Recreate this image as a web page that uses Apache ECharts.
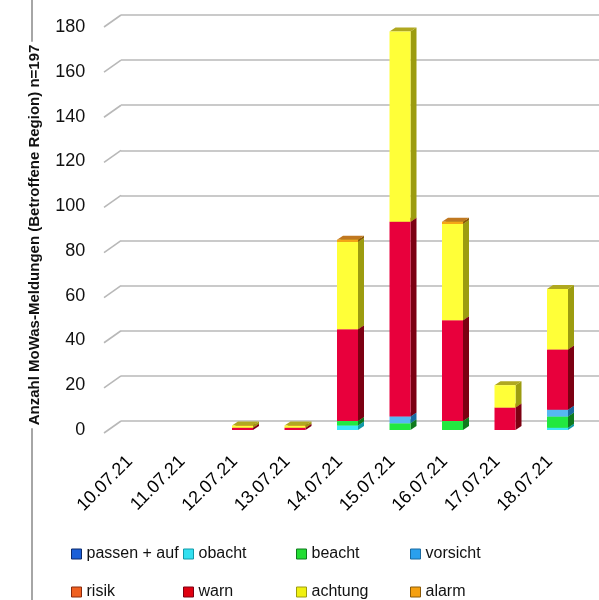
<!DOCTYPE html>
<html>
<head>
<meta charset="utf-8">
<script src="https://cdn.jsdelivr.net/npm/echarts@6/dist/echarts.min.js"></script>
<style>
  html, body { margin: 0; padding: 0; background: #fff; }
  #chart { width: 599px; height: 600px; }
</style>
</head>
<body>
<div id="chart"></div>
<script>
// Tagesweise Anzahl der MoWaS-Meldungen je Warnstufe (gestapelt)
const dates = ['10.07.21', '11.07.21', '12.07.21', '13.07.21', '14.07.21', '15.07.21', '16.07.21', '17.07.21', '18.07.21'];
const seriesNames = ['passen + auf', 'obacht', 'beacht', 'vorsicht', 'risik', 'warn', 'achtung', 'alarm'];
const passenAuf = [0, 0, 0, 0, 0, 0, 0, 0, 0];
const obacht    = [0, 0, 0, 0, 2, 0, 0, 0, 1];
const beacht    = [0, 0, 0, 0, 2, 3, 4, 0, 5];
const vorsicht  = [0, 0, 0, 0, 0, 3, 0, 0, 3];
const risik     = [0, 0, 0, 0, 0, 0, 0, 0, 0];
const warn      = [0, 0, 1, 1, 41, 87, 45, 10, 27];
const achtung   = [0, 0, 1, 1, 39, 85, 43, 10, 27];
const alarm     = [0, 0, 0, 0, 1, 0, 1, 0, 0];
const yTicks = [0, 20, 40, 60, 80, 100, 120, 140, 160, 180];

const seriesValues = [passenAuf, obacht, beacht, vorsicht, risik, warn, achtung, alarm];

// Farben: Legendensymbol sowie Vorder-, Seiten- und Deckfläche der Quader
const legendColors = ['#1a5fd8', '#33e0f0', '#22dd33', '#2aa0ee', '#f06020', '#e00010', '#f0f010', '#f5a010'];
const faceColors = [
  { front: '#1f5bd6', side: '#0d2a6a', top: '#163f99' },
  { front: '#3ce8f8', side: '#129aa8', top: '#22c0d0' },
  { front: '#22e840', side: '#0f7a1e', top: '#18b030' },
  { front: '#55b8f2', side: '#1a6aa0', top: '#3a90c8' },
  { front: '#f05a28', side: '#8a2a0c', top: '#c04018' },
  { front: '#e8003c', side: '#7c0012', top: '#a80020' },
  { front: '#ffff38', side: '#9c9c10', top: '#b0a820' },
  { front: '#f5a516', side: '#8a5a08', top: '#c07820' }
];

const FONT = '"Liberation Sans", Arial, sans-serif';
const DEPTH_X = 6, DEPTH_Y = -4;        // Tiefe der Quader
const WALL_X = 17, WALL_Y = -12;        // Versatz der Rückwand

// kumulierte Basis je Stufe
const bases = [];
const running = dates.map(() => 0);
seriesValues.forEach((vals) => {
  bases.push(running.slice());
  vals.forEach((v, i) => { running[i] += v; });
});

function renderBox(si) {
  return function (params, api) {
    const i = api.value(0);
    const pb = api.coord([i, api.value(1)]);
    const pt = api.coord([i, api.value(2)]);
    const bw = api.size([1, 0])[0] * 0.4;
    const x0 = pb[0] - bw / 2, x1 = pb[0] + bw / 2;
    const yb = pb[1], yt = pt[1];
    const c = faceColors[si];
    return {
      type: 'group',
      children: [
        { type: 'polygon', shape: { points: [[x1, yt], [x1 + DEPTH_X, yt + DEPTH_Y], [x1 + DEPTH_X, yb + DEPTH_Y], [x1, yb]] }, style: { fill: c.side } },
        { type: 'polygon', shape: { points: [[x0, yt], [x1, yt], [x1 + DEPTH_X, yt + DEPTH_Y], [x0 + DEPTH_X, yt + DEPTH_Y]] }, style: { fill: c.top } },
        { type: 'rect', shape: { x: x0, y: yt, width: bw, height: yb - yt }, style: { fill: c.front } }
      ]
    };
  };
}

const boxSeries = seriesNames.map((name, si) => ({
  name: name,
  type: 'custom',
  xAxisIndex: 0,
  yAxisIndex: 0,
  z: 5,
  itemStyle: { color: legendColors[si] },
  renderItem: renderBox(si),
  encode: { x: 0, y: [1, 2] },
  data: seriesValues[si]
    .map((v, i) => [i, bases[si][i], bases[si][i] + v])
    .filter((d) => d[2] > d[1])
}));

// schräge Verbindungslinien von den Achsenbeschriftungen zur Rückwand
const connectorSeries = {
  type: 'custom',
  xAxisIndex: 1,
  yAxisIndex: 1,
  silent: true,
  z: 1,
  renderItem: function (params, api) {
    const p = api.coord([0, api.value(0)]);
    return {
      type: 'line',
      shape: { x1: p[0] - WALL_X, y1: p[1] - WALL_Y, x2: p[0], y2: p[1] },
      style: { stroke: '#b8b8b8', lineWidth: 1.6 }
    };
  },
  data: yTicks.map((t) => [t])
};

const colLeft = [71, 183, 296, 410];
const rowTop = [546, 584];
const legends = seriesNames.map((name, si) => ({
  data: [{ name: name, itemStyle: { borderColor: faceColors[si].side, borderWidth: 1 } }],
  left: colLeft[si % 4],
  top: rowTop[Math.floor(si / 4)],
  padding: 0,
  icon: 'rect',
  itemWidth: 10,
  itemHeight: 10,
  selectedMode: false,
  textStyle: { fontSize: 16, color: '#111', fontFamily: FONT }
}));

const chart = echarts.init(document.getElementById('chart'), null, { renderer: 'canvas' });
chart.setOption({
  backgroundColor: '#fff',
  animation: false,
  textStyle: { fontFamily: FONT },
  legend: legends,
  grid: [
    { left: 111.25, right: 15.25, top: 27, bottom: 170 },
    { left: 121, right: 0, top: 15, bottom: 179 }
  ],
  xAxis: [
    {
      type: 'category',
      gridIndex: 0,
      data: dates,
      axisLine: { show: false },
      axisTick: { show: false },
      axisLabel: { rotate: 45, margin: 21, padding: [0, 11, 0, 0], fontSize: 18, color: '#000', fontFamily: FONT, interval: 0 }
    },
    { type: 'value', gridIndex: 1, min: 0, max: 1, show: false }
  ],
  yAxis: [
    {
      type: 'value',
      gridIndex: 0,
      min: 0,
      max: 180,
      interval: 20,
      axisLine: { show: false },
      axisTick: { show: false },
      splitLine: { show: false },
      axisLabel: { margin: 26, fontSize: 18, color: '#111', fontFamily: FONT }
    },
    {
      type: 'value',
      gridIndex: 1,
      min: 0,
      max: 180,
      interval: 20,
      axisLine: { show: false },
      axisTick: { show: false },
      axisLabel: { show: false },
      splitLine: { show: true, lineStyle: { color: '#b8b8b8', width: 1.6 } }
    }
  ],
  graphic: [
    { type: 'line', z: -10, shape: { x1: 32, y1: 0, x2: 32, y2: 600 }, style: { stroke: '#a6a6a6', lineWidth: 2 } },
    {
      type: 'text', z: 10, x: 35, y: 235, rotation: Math.PI / 2,
      style: {
        text: 'Anzahl MoWas-Meldungen (Betroffene Region) n=197',
        font: 'bold 15px ' + FONT,
        fill: '#111',
        align: 'center',
        verticalAlign: 'middle',
        backgroundColor: '#fff',
        padding: [1, 3]
      }
    }
  ],
  series: [connectorSeries].concat(boxSeries)
});
</script>
</body>
</html>
